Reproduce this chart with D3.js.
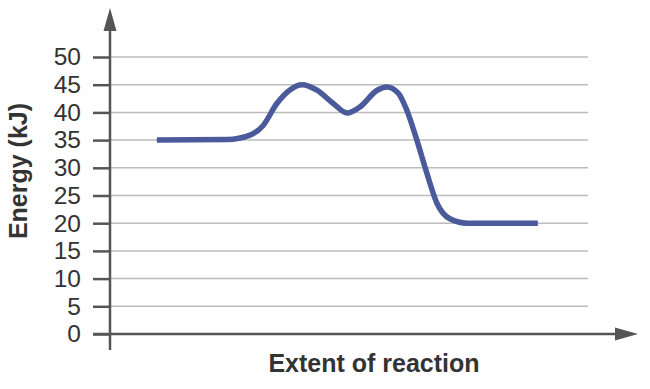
<!DOCTYPE html>
<html>
<head>
<meta charset="utf-8">
<script src="https://cdn.jsdelivr.net/npm/d3@7"></script>
<style>
  body { margin: 0; background: #fff; }
  svg { font-family: "Liberation Sans", Arial, sans-serif; }
</style>
</head>
<body>
<div id="chart"></div>
<script>
// extent of reaction (arbitrary units, 0-100) and energy in kJ
var extent = [9.8, 24.5, 29.3, 32, 34.9, 37.7, 40.2, 43.3, 46.7, 49.6, 52.3, 55.9, 57.9, 60.3, 62.1, 64.2, 66.3, 68.4, 71.1, 74.7, 89.5];
var energy = [35, 35.1, 35.9, 37.6, 41.6, 44.1, 45, 44, 41.6, 39.9, 41, 44, 44.6, 43.5, 40.4, 35, 29, 23.6, 20.8, 20, 20];
var yTicks = [0, 5, 10, 15, 20, 25, 30, 35, 40, 45, 50];

var width = 650, height = 389;
var axisColor = "#555", gridColor = "#bcbcbc", lineColor = "#4b5a9b";

var x = d3.scaleLinear().domain([0, 100]).range([110, 588]);
var y = d3.scaleLinear().domain([0, 50]).range([334, 57]);

var svg = d3.select("#chart").append("svg")
    .attr("width", width)
    .attr("height", height);

// gridlines
svg.append("g").selectAll("line")
  .data(yTicks.filter(function(d) { return d > 0; }))
  .enter().append("line")
    .attr("x1", x(0)).attr("x2", x(100))
    .attr("y1", function(d) { return y(d); })
    .attr("y2", function(d) { return y(d); })
    .style("stroke", gridColor)
    .style("stroke-width", 1.5);

// y axis ticks + labels
var yAxis = d3.axisLeft(y).tickValues(yTicks).tickSize(17).tickPadding(12);
var gy = svg.append("g")
    .attr("transform", "translate(" + x(0) + ",0)")
    .call(yAxis);
gy.select(".domain").remove();
gy.selectAll(".tick line").style("stroke", axisColor).style("stroke-width", 2.5);
gy.selectAll(".tick text")
    .style("font-size", "24.5px")
    .style("fill", "#333")
    .style("font-family", "Liberation Sans, Arial, sans-serif");

// axes with arrows
svg.append("line")
    .attr("x1", x(0)).attr("x2", x(0))
    .attr("y1", 350).attr("y2", 28)
    .style("stroke", axisColor).style("stroke-width", 2.5);
svg.append("path")
    .attr("d", "M" + x(0) + ",8 L" + (x(0) + 6.5) + ",31 L" + (x(0) - 6.5) + ",31 Z")
    .style("fill", axisColor);

svg.append("line")
    .attr("x1", 93).attr("x2", 618)
    .attr("y1", y(0)).attr("y2", y(0))
    .style("stroke", axisColor).style("stroke-width", 2.5);
svg.append("path")
    .attr("d", "M638," + y(0) + " L615," + (y(0) - 6.5) + " L615," + (y(0) + 6.5) + " Z")
    .style("fill", axisColor);

// energy curve
var line = d3.line()
    .x(function(d) { return x(d[0]); })
    .y(function(d) { return y(d[1]); })
    .curve(d3.curveMonotoneX);

svg.append("path")
    .datum(d3.zip(extent, energy))
    .attr("d", line)
    .style("fill", "none")
    .style("stroke", lineColor)
    .style("stroke-width", 5.5);

// axis titles
svg.append("text")
    .attr("x", 374).attr("y", 372)
    .style("text-anchor", "middle")
    .style("font-size", "25px")
    .style("font-weight", "bold")
    .style("fill", "#333")
    .text("Extent of reaction");

svg.append("text")
    .attr("transform", "translate(27,171) rotate(-90)")
    .style("text-anchor", "middle")
    .style("font-size", "25px")
    .style("font-weight", "bold")
    .style("fill", "#333")
    .text("Energy (kJ)");
</script>
</body>
</html>
